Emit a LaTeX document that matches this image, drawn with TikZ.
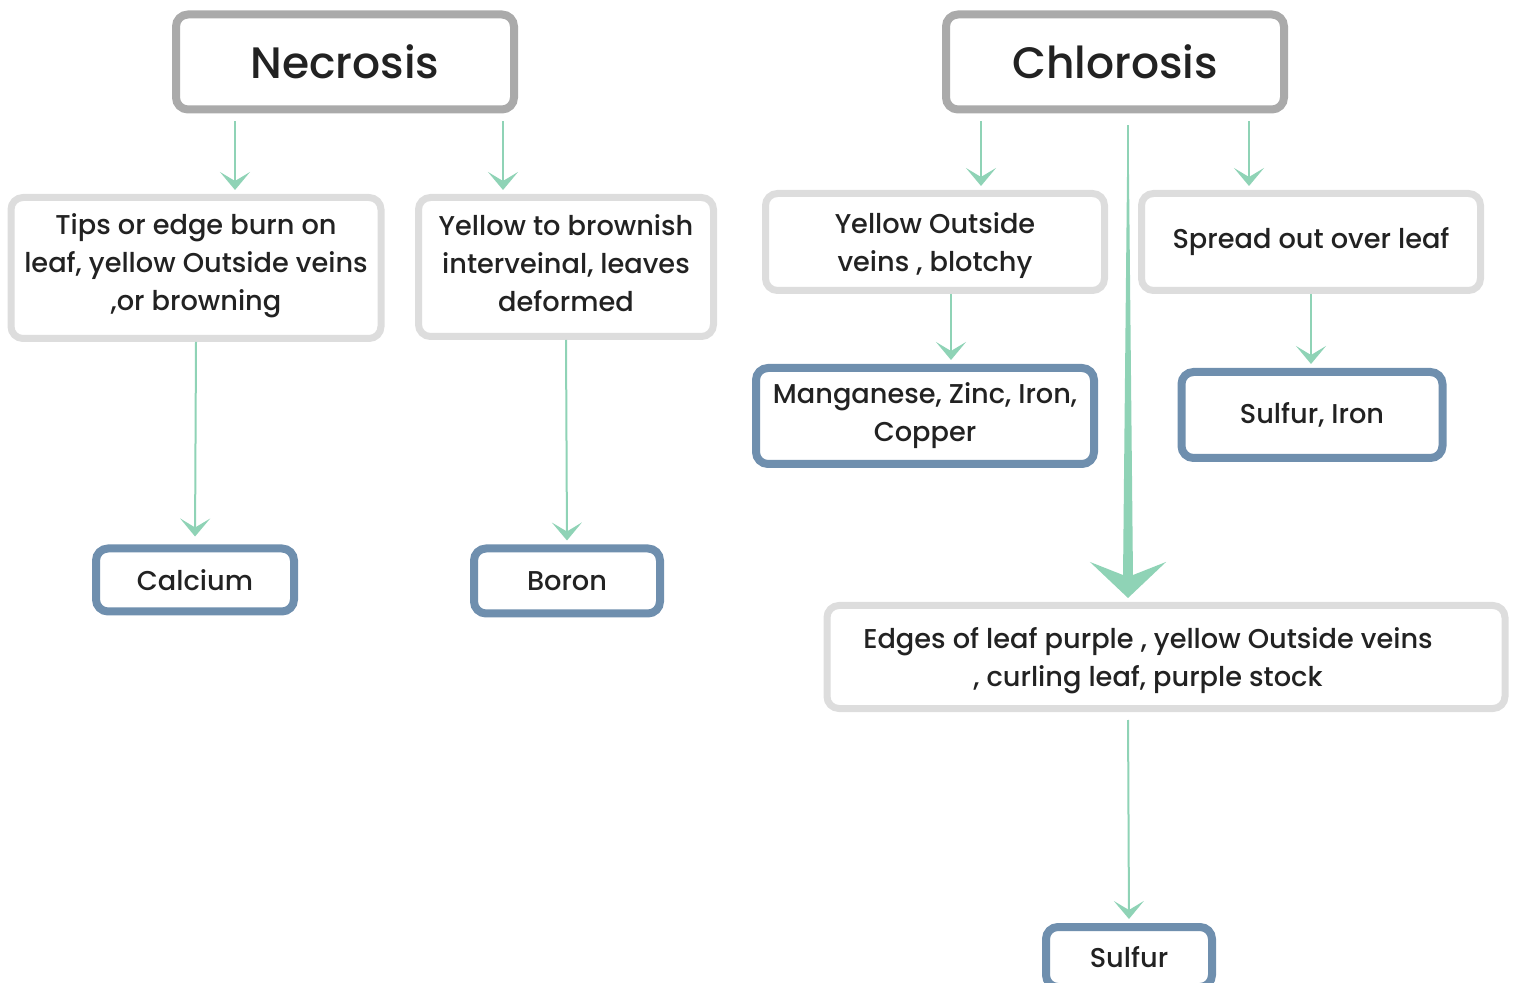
\documentclass[tikz,border=0pt]{standalone}
\usepackage{fontspec}
\setmainfont{Poppins}[UprightFont=* Medium]
\usepackage{tikz}
\usetikzlibrary{arrows.meta}
\definecolor{arrowgreen}{HTML}{8FD3B6}
\definecolor{headgray}{HTML}{AAAAAA}
\definecolor{signgray}{HTML}{DDDDDD}
\definecolor{nutrblue}{HTML}{6F8FAE}
\definecolor{txt}{HTML}{222222}

% shifts the text of a node without changing its size
\newcommand{\nudge}[4]{\raisebox{#1}[\height][\depth]{\hspace{#2}\parbox{#3}{\centering #4}}}

\tikzset{
  box/.style={rounded corners=6pt, fill=white, align=center, text=txt, inner sep=0pt},
  head/.style={box, draw=headgray, line width=4pt, font=\fontsize{22}{26}\selectfont},
  sign/.style={box, draw=signgray, line width=3.5pt, font=\fontsize{13.6}{19}\selectfont},
  nutr/.style={box, draw=nutrblue, line width=4pt, font=\fontsize{13.6}{19}\selectfont},
  arr/.style={draw=arrowgreen, line width=1pt, shorten >=2pt,
    -{Stealth[length=9pt,width=15pt,inset=4.5pt]}},
  gap/.style={shorten <=4pt},
  bigarr/.style={draw=arrowgreen, line width=1pt, shorten <=6pt, shorten >=2pt,
    -{Stealth[length=18pt,width=38pt,inset=7.5pt]}}
}

\begin{document}
\begin{tikzpicture}[x=0.5pt,y=-0.5pt]
\useasboundingbox (0,0) rectangle (1515,983);

% headings
\node[head, minimum width=169pt, minimum height=47.5pt] (necro) at (345,62) {Necrosis};
\node[head, minimum width=169pt, minimum height=47.5pt] (chloro) at (1115,62) {Chlorosis};

% necrosis signs
\node[sign, minimum width=185pt, minimum height=70.5pt] (tips) at (196,268)
  {\nudge{1pt}{0pt}{180pt}{Tips or edge burn on\\leaf, yellow Outside veins\\,or browning}};
\node[sign, minimum width=147.5pt, minimum height=69.5pt] (brown) at (566,267)
  {\nudge{2pt}{0pt}{140pt}{Yellow to brownish\\interveinal, leaves\\deformed}};

% chlorosis signs
\node[sign, minimum width=169.5pt, minimum height=48.5pt] (blotch) at (935,242)
  {\nudge{-2pt}{0pt}{160pt}{Yellow Outside\\veins , blotchy}};
\node[sign, minimum width=169.5pt, minimum height=48.5pt] (spread) at (1311,242)
  {Spread out over leaf};
\node[sign, minimum width=339pt, minimum height=51.5pt] (edges) at (1166,657)
  {\nudge{-2pt}{-18pt}{330pt}{Edges of leaf purple , yellow Outside veins\\, curling leaf, purple stock}};

% nutrients
\node[nutr, minimum width=99pt, minimum height=31.5pt] (calc) at (195,580) {Calcium};
\node[nutr, minimum width=93pt, minimum height=32.5pt] (boron) at (567,581) {Boron};
\node[nutr, minimum width=169pt, minimum height=48pt] (mang) at (925,416)
  {Manganese, Zinc, Iron,\\Copper};
\node[nutr, minimum width=130.5pt, minimum height=43pt] (sulfe) at (1312,415) {Sulfur, Iron};
\node[nutr, minimum width=83pt, minimum height=30pt] (sulf) at (1129,957) {Sulfur};

% arrows
\draw[arr, gap] ([xshift=-55pt]necro.south) -- ([xshift=19.5pt]tips.north);
\draw[arr, gap] ([xshift=79pt]necro.south) -- ([xshift=-31.5pt]brown.north);
\draw[arr, shorten >=4pt] (tips.south) -- (calc.north);
\draw[arr] (brown.south) -- (boron.north);
\draw[arr, gap] ([xshift=-67pt]chloro.south) -- ([xshift=23pt]blotch.north);
\draw[arr, gap] ([xshift=67pt]chloro.south) -- ([xshift=-31pt]spread.north);
\draw[arr] ([xshift=8pt]blotch.south) -- ([xshift=13pt]mang.north);
\draw[arr] (spread.south) -- ([xshift=-0.5pt]sulfe.north);
\draw[arr, gap] ([xshift=-19pt]edges.south) -- (sulf.north);

% big tapered arrow
\fill[arrowgreen] ([xshift=6.25pt,yshift=-6pt]chloro.south) -- ([xshift=6.75pt,yshift=-6pt]chloro.south)
  -- ([xshift=-16.5pt,yshift=12pt]edges.north) -- ([xshift=-21.5pt,yshift=12pt]edges.north) -- cycle;
\draw[bigarr] ([xshift=6.5pt]chloro.south) -- ([xshift=-19pt]edges.north);

\end{tikzpicture}
\end{document}
